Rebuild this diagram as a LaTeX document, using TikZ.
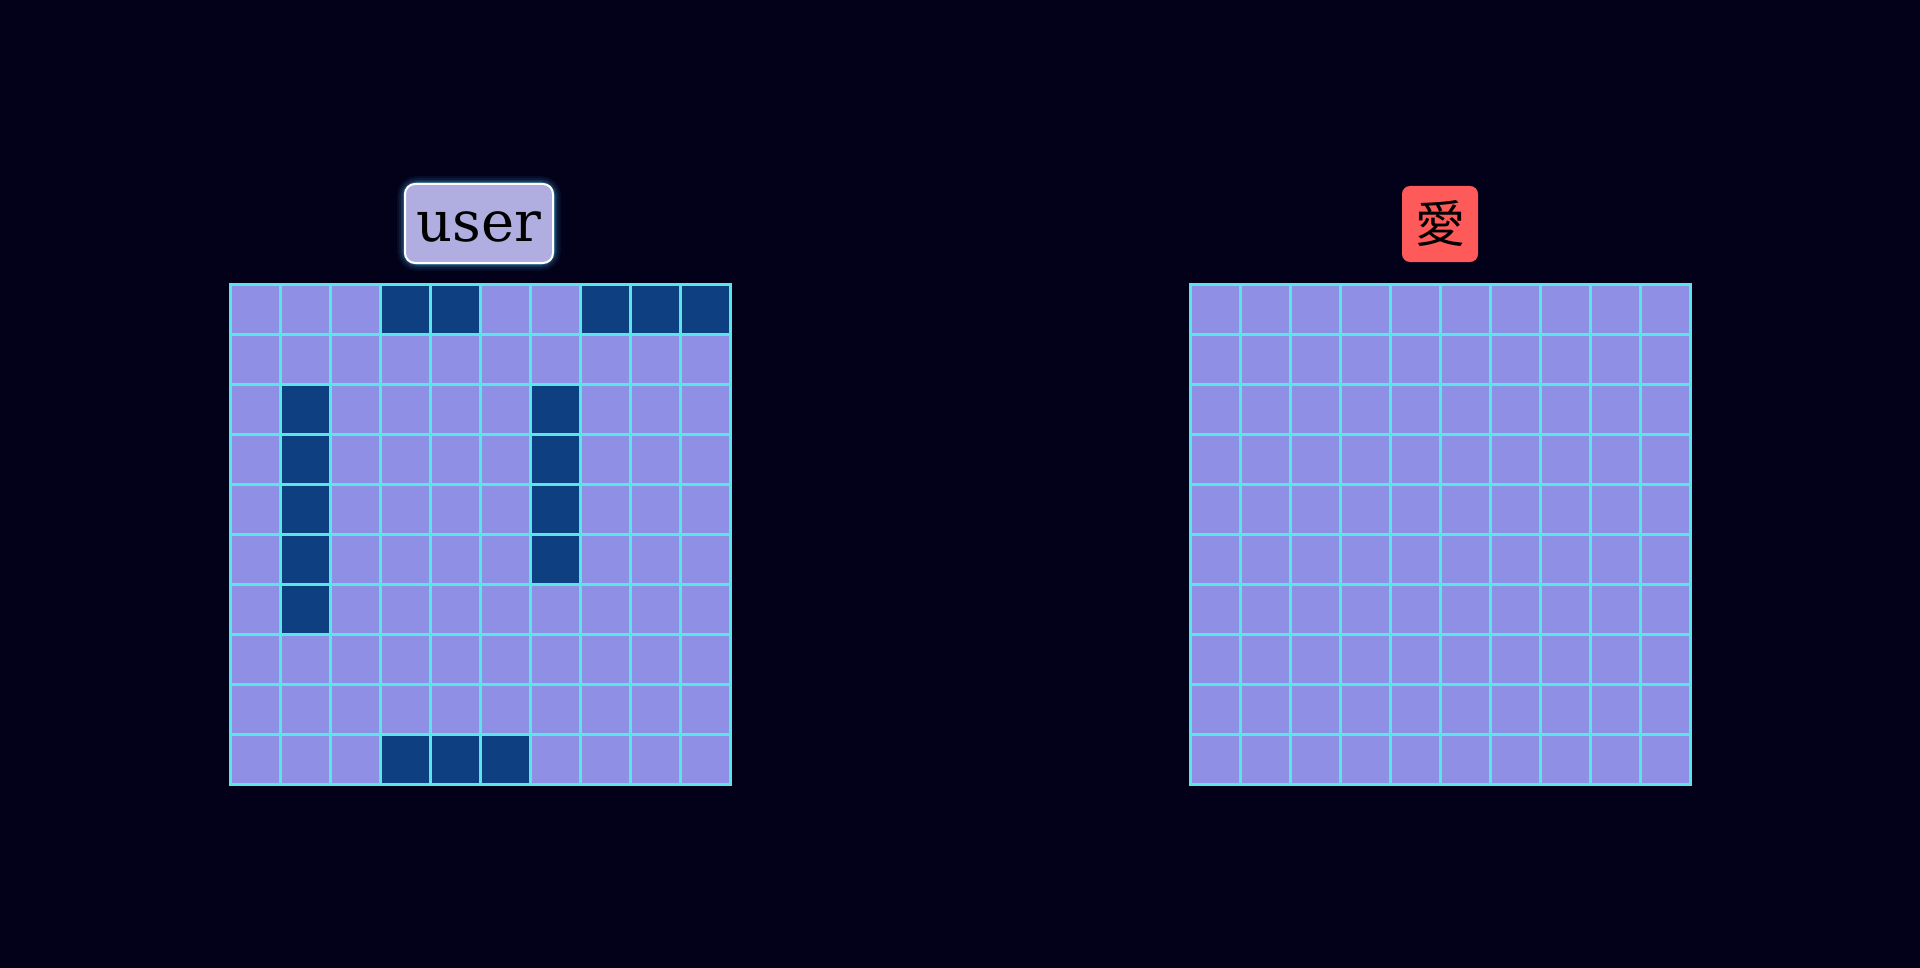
\documentclass[tikz,border=0pt]{standalone}
\usepackage{fontspec}
\setmainfont{DejaVu Serif}
\newfontfamily\cjk{Noto Sans CJK JP}
\definecolor{bg}{RGB}{3,0,26}
\definecolor{cellfill}{RGB}{143,143,230}
\definecolor{celldark}{RGB}{14,63,128}
\definecolor{gridline}{RGB}{90,230,230}
\definecolor{userfill}{RGB}{176,174,224}
\definecolor{glow}{RGB}{80,200,255}
\definecolor{redfill}{RGB}{255,90,90}
\tikzset{
  cell/.style={draw=gridline, line width=1.5pt, fill=cellfill, minimum size=25pt, inner sep=0pt, outer sep=0pt},
  darkcell/.style={cell, fill=celldark},
  userbox/.style={draw=white, line width=1pt, fill=userfill, rounded corners=5pt, minimum width=74pt, minimum height=39.5pt, inner sep=0pt, text height=18.5pt, text depth=0pt, font=\fontsize{28pt}{30pt}\selectfont},
  redbox/.style={fill=redfill, rounded corners=4pt, minimum width=38pt, minimum height=38pt, inner sep=0pt, font=\cjk\fontsize{25pt}{27pt}\selectfont}
}
\begin{document}
\begin{tikzpicture}[x=0.5pt,y=-0.5pt]
\fill[bg] (0,0) rectangle (1920,968);
\useasboundingbox (0,0) rectangle (1920,968);
% left grid
\foreach \r in {0,...,9}{
  \foreach \c in {0,...,9}{
    \node[cell] (L-\r-\c) at ({255+50*\c},{309+50*\r}) {};
  }
}
\foreach \r/\c in {0/3,0/4,0/7,0/8,0/9,2/1,3/1,4/1,5/1,6/1,2/6,3/6,4/6,5/6,9/3,9/4,9/5}{
  \node[darkcell] (D-\r-\c) at ({255+50*\c},{309+50*\r}) {};
}
% right grid
\foreach \r in {0,...,9}{
  \foreach \c in {0,...,9}{
    \node[cell] (R-\r-\c) at ({1215+50*\c},{309+50*\r}) {};
  }
}
% glow
\foreach \w/\o in {16/0.06,12/0.08,8/0.12,5/0.18,3/0.3}{
  \draw[glow, line width=\w*0.5pt, opacity=\o, rounded corners=6pt] (405,184) rectangle (553,263);
}
\node[userbox] (user) at (479,223.5) {user};
\node[redbox] (ai) at (1440,224) {愛};
\end{tikzpicture}
\end{document}
